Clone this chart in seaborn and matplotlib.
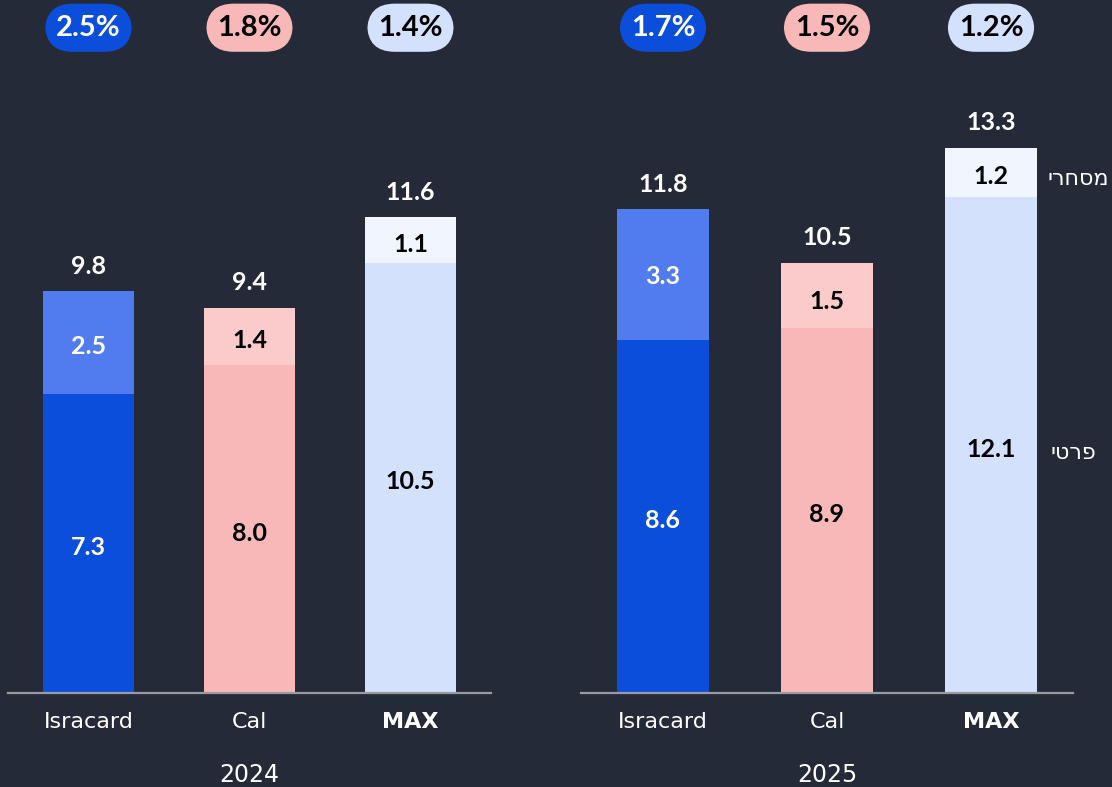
import numpy as np
import pandas as pd
import matplotlib
matplotlib.use("Agg")
import matplotlib.pyplot as plt
import seaborn as sns


# DATA

companies = ["Isracard", "Cal", "MAX"]
years = ["2024", "2025"]

private_2024 = [7.3, 8.0, 10.5]
commercial_2024 = [2.5, 1.4, 1.1]
total_2024 = [9.8, 9.4, 11.6]
share_2024 = ["2.5%", "1.8%", "1.4%"]

private_2025 = [8.6, 8.9, 12.1]
commercial_2025 = [3.3, 1.5, 1.2]
total_2025 = [11.8, 10.5, 13.3]
share_2025 = ["1.7%", "1.5%", "1.2%"]

label_commercial = "מסחרי"
label_private = "פרטי"


# STYLE

BG = "#252a38"
private_colors = ["#0b4edb", "#f8b8b8", "#d3e1fd"]
commercial_colors = ["#507cf0", "#fbcaca", "#f0f5fe"]
text_colors = ["white", "black", "black"]

sns.set_theme(style="white")
plt.rcParams["font.family"] = ["Lato", "DejaVu Sans"]

fig = plt.figure(figsize=(11.12, 7.87), dpi=100, facecolor=BG)

W, H = 1112, 787
ax1 = fig.add_axes([8 / W, 94 / H, 483 / W, 693 / H])
ax2 = fig.add_axes([581 / W, 94 / H, 492 / W, 693 / H])

panels = [
    (ax1, years[0], private_2024, commercial_2024, total_2024, share_2024),
    (ax2, years[1], private_2025, commercial_2025, total_2025, share_2025),
]

for ax, year, private, commercial, total, share in panels:

    ax.set_facecolor(BG)

    df = pd.DataFrame({
        "company": companies,
        "private": private,
        "commercial": commercial,
        "total": total,
    })

    # top part (full height) then bottom part drawn over it
    sns.barplot(
        data=df, x="company", y="total", hue="company",
        palette=commercial_colors, saturation=1, width=0.56,
        edgecolor="none", linewidth=0, legend=False, ax=ax
    )
    sns.barplot(
        data=df, x="company", y="private", hue="company",
        palette=private_colors, saturation=1, width=0.56,
        edgecolor="none", linewidth=0, legend=False, ax=ax
    )

    ax.set_xlim(-0.5, 2.5)
    ax.set_ylim(0, 693 / 41)

    for i in range(len(companies)):

        ax.annotate(
            f"{private[i]:.1f}", (i, private[i] / 2),
            xytext=(0, -3), textcoords="offset points",
            ha="center", va="center", fontsize=18,
            fontweight="bold", color=text_colors[i]
        )

        ax.annotate(
            f"{commercial[i]:.1f}", (i, private[i] + commercial[i] / 2),
            xytext=(0, -3), textcoords="offset points",
            ha="center", va="center", fontsize=18,
            fontweight="bold", color=text_colors[i]
        )

        ax.annotate(
            f"{total[i]:.1f}", (i, total[i]),
            xytext=(0, 18), textcoords="offset points",
            ha="center", va="center", fontsize=18,
            fontweight="bold", color="white"
        )

        # market share pill
        ax.text(
            i, 0.96, share[i],
            transform=ax.get_xaxis_transform(),
            ha="center", va="center", fontsize=21,
            fontweight="bold", color=text_colors[i],
            bbox=dict(
                boxstyle="round,pad=0.38,rounding_size=0.95",
                facecolor=private_colors[i], edgecolor="none"
            ),
            clip_on=False
        )

    for side in ["top", "right", "left"]:
        ax.spines[side].set_visible(False)

    ax.spines["bottom"].set_color("#9a9aa0")
    ax.spines["bottom"].set_linewidth(1.6)

    ax.set_yticks([])
    ax.set_ylabel("")
    ax.tick_params(axis="x", length=0, pad=14)
    ax.set_xticks(range(len(companies)))
    ax.set_xticklabels(companies, color="white", fontsize=16,
                       family="DejaVu Sans")
    ax.get_xticklabels()[2].set_fontweight("bold")

    ax.set_xlabel(year, color="white", fontsize=17,
                  family="DejaVu Sans", labelpad=22)


# HEBREW SERIES LABELS (reversed for right-to-left display)

ax2.annotate(
    label_commercial[::-1],
    (2.5, private_2025[2] + commercial_2025[2] / 2),
    xytext=(1109 / W, -5), textcoords=("figure fraction", "offset points"),
    ha="right", va="center", fontsize=16, color="white",
    family="DejaVu Sans", annotation_clip=False
)

ax2.annotate(
    label_private[::-1],
    (2.5, private_2025[2] / 2),
    xytext=(1096 / W, -6), textcoords=("figure fraction", "offset points"),
    ha="right", va="center", fontsize=16, color="white",
    family="DejaVu Sans", annotation_clip=False
)

fig.savefig("out.png", dpi=100, facecolor=BG)
